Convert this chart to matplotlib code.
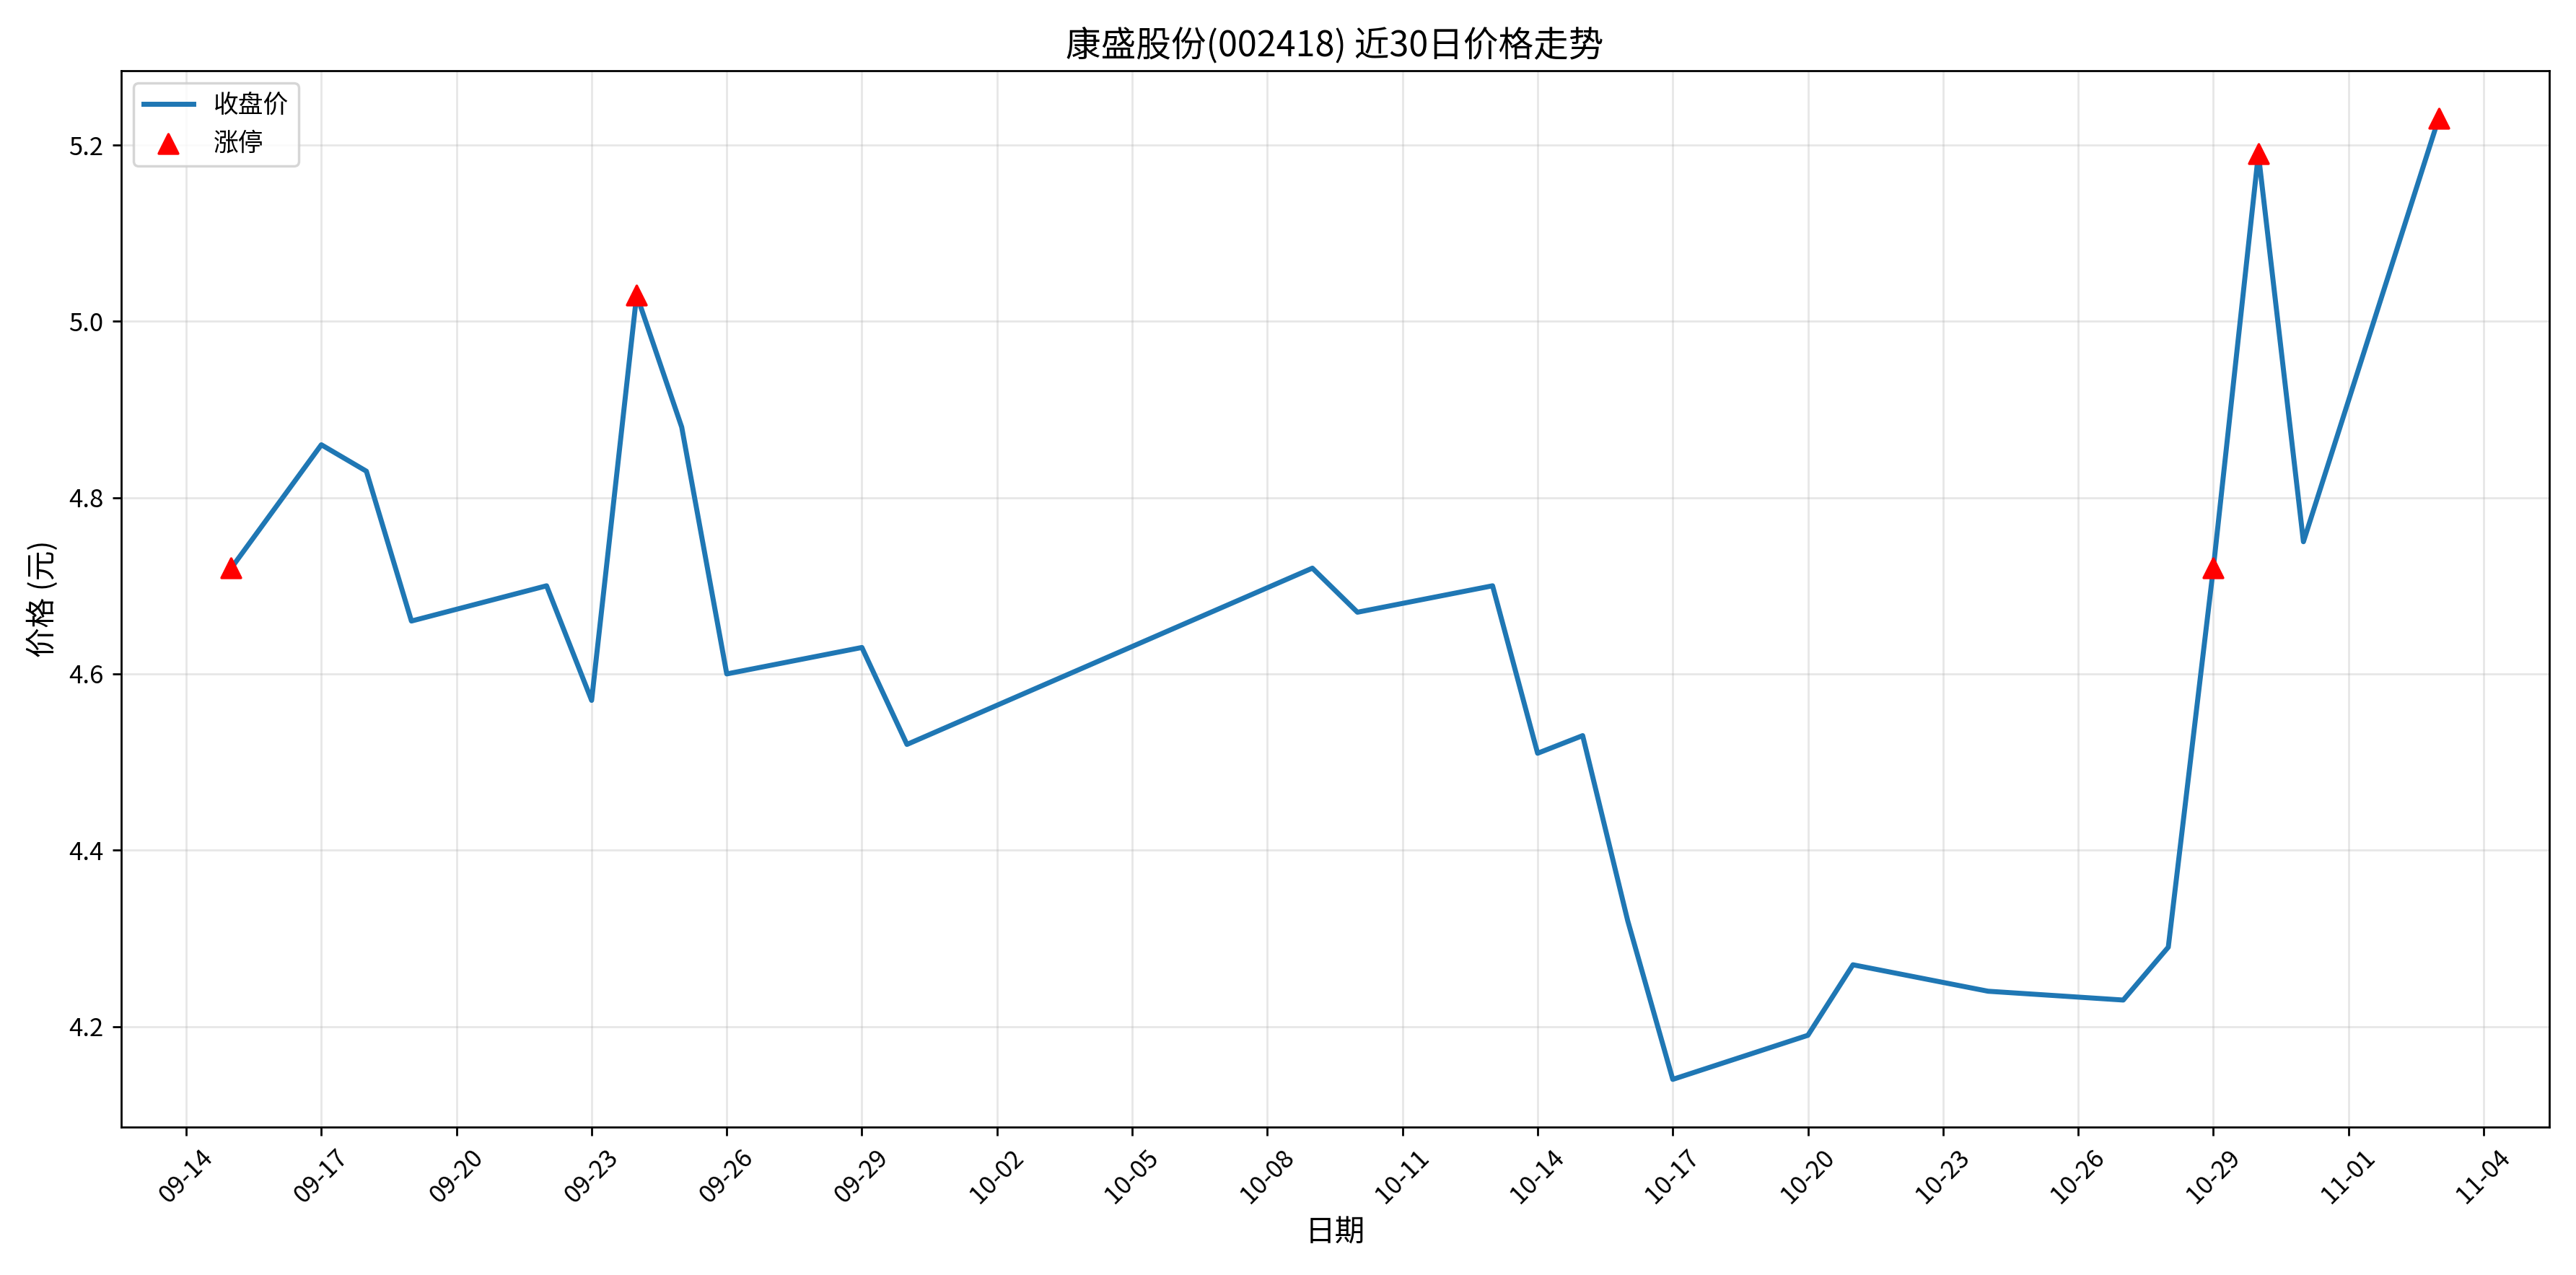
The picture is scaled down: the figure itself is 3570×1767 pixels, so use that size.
import pandas as pd
import matplotlib.pyplot as plt
import matplotlib.dates as mdates

plt.rcParams['font.family'] = ['Noto Sans CJK SC', 'DejaVu Sans']
plt.rcParams['axes.unicode_minus'] = False

dates = ['09-15', '09-17', '09-18', '09-19', '09-22', '09-23', '09-24', '09-25', '09-26',
         '09-29', '09-30', '10-09', '10-10', '10-13', '10-14', '10-15', '10-16', '10-17',
         '10-20', '10-21', '10-24', '10-27', '10-28', '10-29', '10-30', '10-31', '11-03']
close = [4.72, 4.86, 4.83, 4.66, 4.70, 4.57, 5.03, 4.88, 4.60,
         4.63, 4.52, 4.72, 4.67, 4.70, 4.51, 4.53, 4.32, 4.14,
         4.19, 4.27, 4.24, 4.23, 4.29, 4.72, 5.19, 4.75, 5.23]
limit_up_dates = ['09-15', '09-24', '10-29', '10-30', '11-03']

df = pd.DataFrame({'date': pd.to_datetime(['2025-' + d for d in dates]), 'close': close})
lu = df[df['date'].isin(pd.to_datetime(['2025-' + d for d in limit_up_dates]))]

fig, ax = plt.subplots(figsize=(14.28, 7.068), dpi=250)
ax.plot(df['date'], df['close'], linewidth=2, color='#1f77b4', label='收盘价')
ax.scatter(lu['date'], lu['close'], marker='^', color='red', s=60, zorder=5, label='涨停')

ax.set_title('康盛股份(002418) 近30日价格走势', fontsize=14)
ax.set_xlabel('日期', fontsize=12)
ax.set_ylabel('价格 (元)', fontsize=12)
ax.grid(True, alpha=0.3)
ax.legend(loc='upper left')

ticks = pd.date_range('2025-09-14', '2025-11-04', freq='3D')
ax.set_xticks(ticks)
ax.xaxis.set_major_formatter(mdates.DateFormatter('%m-%d'))
plt.setp(ax.get_xticklabels(), rotation=45)

plt.tight_layout()
plt.savefig('out.png')
